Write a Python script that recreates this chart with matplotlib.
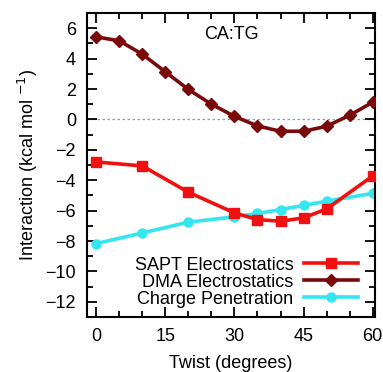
import matplotlib
matplotlib.use("Agg")
import matplotlib.pyplot as plt
from matplotlib.ticker import MultipleLocator

plt.rcParams["font.family"] = ["Liberation Sans", "DejaVu Sans"]

# DMA electrostatics (every 5 degrees)
twist_dma = [0, 5, 10, 15, 20, 25, 30, 35, 40, 45, 50, 55, 60]
dma = [5.43, 5.17, 4.29, 3.13, 1.97, 1.0, 0.2, -0.43, -0.78, -0.78, -0.45, 0.27, 1.13]

# SAPT electrostatics and charge penetration
twist = [0, 10, 20, 30, 35, 40, 45, 50, 60]
sapt = [-2.80, -3.06, -4.79, -6.15, -6.59, -6.70, -6.48, -5.89, -3.72]
charge_pen = [-8.17, -7.47, -6.76, -6.41, -6.19, -5.93, -5.66, -5.38, -4.87]

xticks = [0, 15, 30, 45, 60]
yticks = [-12, -10, -8, -6, -4, -2, 0, 2, 4, 6]

fs = 13

fig = plt.figure(figsize=(3.83, 3.72), dpi=100)
ax = fig.add_axes([87 / 383, 55 / 372, 288 / 383, 304 / 372])

ax.axhline(0, color="#999999", lw=0.9, ls=(0, (2, 2)), zorder=1)

ax.plot(twist, sapt, color="#f01010", lw=2.6, marker="s", ms=7.5,
        label="SAPT Electrostatics", zorder=3)
ax.plot(twist_dma, dma, color="#7a0a0a", lw=2.6, marker="D", ms=6.5,
        label="DMA Electrostatics", zorder=3)
ax.plot(twist, charge_pen, color="#33e6f0", lw=2.6, marker="o", ms=6.5,
        label="Charge Penetration", zorder=2)

ax.set_xlim(-2, 60.5)
ax.set_ylim(-13, 7)
ax.set_xticks(xticks)
ax.set_yticks(yticks)
ax.xaxis.set_minor_locator(MultipleLocator(5))
ax.yaxis.set_minor_locator(MultipleLocator(1))
ax.tick_params(which="both", direction="in", top=True, right=True,
               labelsize=fs, width=1.3)
ax.tick_params(which="major", length=7, pad=8)
ax.tick_params(which="minor", length=4.5)
for s in ax.spines.values():
    s.set_linewidth(1.5)

ax.set_xlabel("Twist (degrees)", fontsize=fs, labelpad=7)
ax.set_ylabel("Interaction (kcal mol $^{-1}$)", fontsize=fs, labelpad=4)
ax.text(0.5, 0.93, "CA:TG", transform=ax.transAxes, ha="center", va="center",
        fontsize=fs)

leg = ax.legend(loc="lower right", bbox_to_anchor=(0.98, -0.005),
                markerfirst=False, frameon=False,
                fontsize=fs, handlelength=3.0, handletextpad=0.6,
                labelspacing=0.0, borderaxespad=0.2)
for t in leg.get_texts():
    t.set_ha("right")
leg._legend_box.align = "right"

fig.savefig("out.png", dpi=100)
